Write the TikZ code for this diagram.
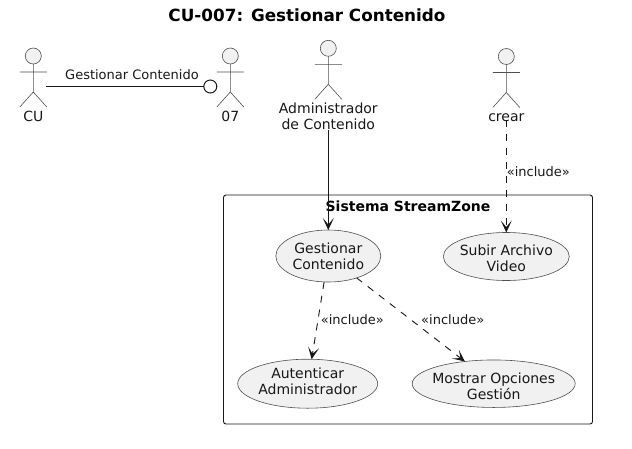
\documentclass[tikz,border=0pt]{standalone}
\usepackage{fontspec}
\setmainfont{DejaVu Sans}
\usetikzlibrary{arrows.meta,shapes.geometric}
\definecolor{umlline}{HTML}{181818}
\definecolor{umlthin}{HTML}{505050}
\definecolor{umlfill}{HTML}{F1F1F1}
\tikzset{
  uc/.style={ellipse,draw=umlthin,fill=umlfill,line width=0.6pt,inner sep=0pt,outer sep=0pt},
  uctext/.style={inner sep=0pt,outer sep=0pt,align=center,font=\fontsize{14}{16}\selectfont,text=umlline},
  head/.style={circle,draw=umlthin,fill=umlfill,line width=0.6pt,minimum size=16pt,inner sep=0pt,outer sep=0pt},
  limb/.style={draw=umlthin,line width=0.6pt},
  actorlabel/.style={inner sep=0pt,outer sep=0pt,align=center,font=\fontsize{14}{16}\selectfont,text=umlline},
  edgelabel/.style={inner sep=0pt,font=\fontsize{13}{15}\selectfont,text=umlline},
  openarrow/.style={-{Stealth[length=12pt,width=11pt,inset=6.5pt]}},
  rel/.style={draw=umlline,line width=0.9pt,openarrow},
  incl/.style={rel,dash pattern=on 7pt off 7pt},
}
\newcommand{\stickman}[3]{% name, x, y of head centre
  \node[head] (#1) at (#2,#3) {};
  \draw[limb] (#1.south) -- (#2,#3+36) -- (#2-13.5,#3+51)  (#2,#3+36) -- (#2+13.5,#3+51)
    (#2-13.5,#3+16) -- (#2+13.5,#3+16);
}
\newcommand{\usecase}[7]{% name, x, y, width, height, text y, text
  \node[uc,minimum width=#4pt,minimum height=#5pt] (#1) at (#2,#3) {};
  \node[uctext] (#1text) at (#2,#6) {#7};
}
\begin{document}
\begin{tikzpicture}[x=1pt,y=-1pt]
\useasboundingbox (0,0) rectangle (632,448);
\fill[white] (0,0) rectangle (632,448);
\node[font=\fontsize{16.8}{19}\selectfont\bfseries] (title) at (307,15) {CU-007: Gestionar Contenido};
% system boundary
\node[draw=umlline,line width=0.9pt,rounded corners=2.5pt,minimum width=369pt,minimum height=229pt,inner sep=0pt] (sys) at (408,309.5) {};
\node[font=\fontsize{14}{16}\selectfont\bfseries] (systitle) at (408,206) {Sistema StreamZone};
% actors
\stickman{cu}{33.3}{56}
\node[actorlabel,anchor=base] (culabel) at (33.3,121) {CU};
\stickman{zs}{230.3}{56}
\node[actorlabel,anchor=base] (zslabel) at (230.3,121) {07};
\stickman{admin}{328.3}{48.3}
\node[actorlabel] (adminlabel) at (328.3,116) {Administrador\\de Contenido};
\stickman{crear}{506.3}{56.5}
\node[actorlabel,anchor=base] (crearlabel) at (506.3,121) {crear};
% use cases
\usecase{gest}{328.3}{256}{105}{52}{256}{Gestionar\\Contenido}
\usecase{subir}{506.3}{256.5}{126}{48}{258.5}{Subir Archivo\\Video}
\usecase{auten}{307.7}{383.7}{140}{49}{381.5}{Autenticar\\Administrador}
\usecase{most}{493.7}{383.7}{163}{47.5}{386.5}{Mostrar Opciones\\Gestión}
% connectors
\coordinate (cuend) at (46,86.5);
\node[circle,draw=umlline,line width=1pt,minimum size=13pt,inner sep=0pt,outer sep=0pt] (iface) at (210.3,86.5) {};
\draw[umlline,line width=0.9pt] (cuend) -- (iface);
\node[edgelabel] (lblg) at (132,74.5) {Gestionar Contenido};
\path[rel] (adminlabel.south) ++(0,1) coordinate (adminout) (adminout) -- (gest.north);
\path[incl] ([yshift=1pt]crearlabel.south) -- (subir.north);
\path[incl] (gest) -- (auten);
\path[incl] (gest) -- (most);
\node[edgelabel] (lbl1) at (538.3,171.7) {«include»};
\node[edgelabel] (lbl2) at (352.3,320) {«include»};
\node[edgelabel] (lbl3) at (452.7,320) {«include»};
\end{tikzpicture}
\end{document}
